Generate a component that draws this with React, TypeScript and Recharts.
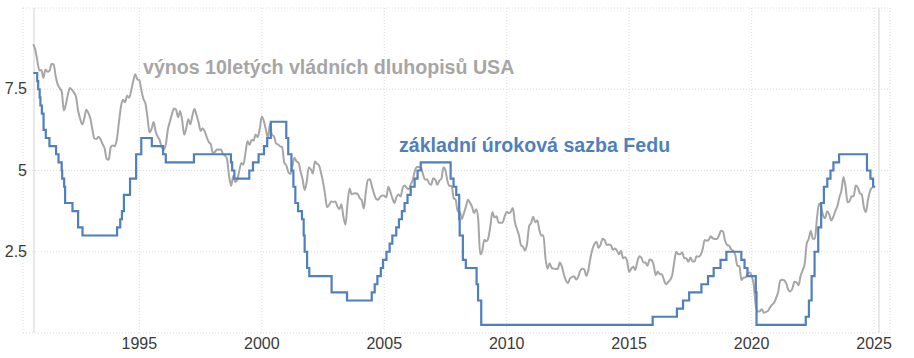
import React from 'react';
import { LineChart, Line, XAxis, YAxis, CartesianGrid, ReferenceLine } from 'recharts';

// 10y treasury yield, monthly, Sep 1990 .. Dec 2024
const yields1990s = [
  8.89, 8.72, 8.39, 8.08,
  8.09, 7.85, 8.11, 8.04, 8.07, 8.28, 8.27, 7.90, 7.65, 7.53, 7.42, 6.85,
  7.03, 7.34, 7.54, 7.48, 7.39, 7.26, 6.84, 6.59, 6.42, 6.59, 6.87, 6.77,
  6.60, 6.26, 5.98, 5.97, 6.04, 5.96, 5.81, 5.68, 5.36, 5.33, 5.72, 5.77,
  5.75, 5.97, 6.48, 6.97, 7.18, 7.10, 7.30, 7.24, 7.46, 7.74, 7.96, 7.81,
  7.78, 7.47, 7.20, 7.06, 6.63, 6.17, 6.28, 6.49, 6.20, 6.04, 5.93, 5.71,
  5.65, 5.81, 6.27, 6.51, 6.74, 6.91, 6.87, 6.64, 6.83, 6.53, 6.10, 6.30,
  6.58, 6.42, 6.69, 6.89, 6.71, 6.49, 6.22, 6.30, 6.21, 6.03, 5.88, 5.81,
  5.54, 5.57, 5.65, 5.64, 5.65, 5.50, 5.46, 5.34, 4.81, 4.53, 4.83, 4.65,
  4.72, 5.00, 5.23, 5.18, 5.54, 5.90, 5.79, 5.94, 5.92, 6.11, 6.03, 6.28,
];
const yields2000s = [
  6.66, 6.52, 6.26, 5.99, 6.44, 6.10, 6.05, 5.83, 5.80, 5.74, 5.72, 5.24,
  5.16, 4.95, 4.89, 5.14, 5.39, 5.28, 5.24, 4.97, 4.73, 4.40, 4.65, 5.09,
  5.04, 4.91, 5.28, 5.21, 5.16, 4.93, 4.65, 4.26, 3.87, 3.94, 4.05, 4.03,
  4.05, 3.90, 3.81, 3.96, 3.57, 3.33, 3.98, 4.45, 4.27, 4.29, 4.30, 4.27,
  4.15, 4.08, 3.83, 4.35, 4.72, 4.73, 4.50, 4.28, 4.13, 4.10, 4.19, 4.23,
  4.22, 4.17, 4.50, 4.34, 4.14, 4.00, 4.18, 4.26, 4.20, 4.46, 4.54, 4.47,
  4.42, 4.57, 4.72, 4.99, 5.11, 5.11, 5.09, 4.88, 4.72, 4.73, 4.60, 4.56,
  4.76, 4.72, 4.56, 4.69, 4.75, 5.10, 5.00, 4.67, 4.52, 4.53, 4.15, 4.10,
  3.74, 3.74, 3.51, 3.68, 3.88, 4.10, 4.01, 3.89, 3.69, 3.81, 3.53, 2.42,
  2.52, 2.87, 2.82, 2.93, 3.29, 3.72, 3.56, 3.59, 3.40, 3.39, 3.40, 3.59,
];
const yields2010s = [
  3.73, 3.69, 3.73, 3.85, 3.42, 3.20, 3.01, 2.70, 2.65, 2.54, 2.76, 3.29,
  3.39, 3.58, 3.41, 3.46, 3.17, 3.00, 3.00, 2.30, 1.98, 2.15, 2.01, 1.98,
  1.97, 1.97, 2.17, 2.05, 1.80, 1.62, 1.53, 1.68, 1.72, 1.75, 1.65, 1.72,
  1.91, 1.98, 1.96, 1.76, 1.93, 2.30, 2.58, 2.74, 2.81, 2.62, 2.72, 2.90,
  2.86, 2.71, 2.72, 2.71, 2.56, 2.60, 2.54, 2.42, 2.53, 2.30, 2.33, 2.21,
  1.88, 1.98, 2.04, 1.94, 2.20, 2.36, 2.32, 2.17, 2.17, 2.07, 2.26, 2.24,
  2.09, 1.78, 1.89, 1.81, 1.81, 1.64, 1.50, 1.56, 1.63, 1.76, 2.14, 2.49,
  2.43, 2.42, 2.48, 2.30, 2.30, 2.19, 2.32, 2.21, 2.20, 2.36, 2.35, 2.40,
  2.58, 2.86, 2.84, 2.87, 2.98, 2.91, 2.89, 2.89, 3.00, 3.15, 3.12, 2.83,
  2.71, 2.68, 2.57, 2.53, 2.40, 2.07, 2.06, 1.63, 1.70, 1.71, 1.81, 1.86,
];
const yields2020s = [
  1.76, 1.50, 0.87, 0.66, 0.67, 0.73, 0.62, 0.65, 0.68, 0.79, 0.87, 0.93,
  1.08, 1.26, 1.61, 1.64, 1.62, 1.52, 1.32, 1.28, 1.37, 1.58, 1.56, 1.47,
  1.76, 1.93, 2.13, 2.75, 2.90, 3.14, 2.90, 2.90, 3.52, 3.98, 3.89, 3.62,
  3.53, 3.75, 3.66, 3.46, 3.57, 3.75, 3.90, 4.17, 4.38, 4.80, 4.50, 4.02,
  4.06, 4.21, 4.21, 4.54, 4.48, 4.31, 4.25, 3.87, 3.72, 4.10, 4.36, 4.48,
];

// Fed funds target (upper bound), change dates in decimal years
const fedDates = [
  1990.67, 1990.83, 1990.87, 1990.93, 1990.96, 1991.02, 1991.09, 1991.18, 1991.33, 1991.6,
  1991.7, 1991.83, 1991.85, 1991.93, 1991.97, 1992.27, 1992.5, 1992.68, 1994.09, 1994.22,
  1994.29, 1994.37, 1994.62, 1994.87, 1995.08, 1995.51, 1995.97, 1996.08, 1997.23, 1998.74,
  1998.79, 1998.88, 1999.49, 1999.64, 1999.87, 2000.09, 2000.22, 2000.37, 2001.0, 2001.08,
  2001.21, 2001.29, 2001.37, 2001.48, 2001.64, 2001.71, 2001.75, 2001.85, 2001.94, 2002.85,
  2003.48, 2004.49, 2004.61, 2004.72, 2004.86, 2004.95, 2005.09, 2005.22, 2005.33, 2005.49,
  2005.6, 2005.72, 2005.83, 2005.95, 2006.08, 2006.24, 2006.36, 2006.49, 2007.71, 2007.83,
  2007.94, 2008.06, 2008.08, 2008.21, 2008.33, 2008.77, 2008.83, 2008.96, 2015.96, 2016.95,
  2017.2, 2017.45, 2017.95, 2018.22, 2018.45, 2018.73, 2018.97, 2019.58, 2019.71, 2019.83,
  2020.17, 2020.2, 2022.21, 2022.34, 2022.45, 2022.57, 2022.72, 2022.84, 2022.95, 2023.09,
  2023.22, 2023.34, 2023.57, 2024.71, 2024.85, 2024.96, 2025.05,
];
const fedRates = [
  8.0, 7.75, 7.5, 7.25, 7.0, 6.75, 6.25, 6.0, 5.75, 5.5,
  5.25, 5.0, 4.75, 4.5, 4.0, 3.75, 3.25, 3.0, 3.25, 3.5,
  3.75, 4.25, 4.75, 5.5, 6.0, 5.75, 5.5, 5.25, 5.5, 5.25,
  5.0, 4.75, 5.0, 5.25, 5.5, 5.75, 6.0, 6.5, 6.0, 5.5,
  5.0, 4.5, 4.0, 3.75, 3.5, 3.0, 2.5, 2.0, 1.75, 1.25,
  1.0, 1.25, 1.5, 1.75, 2.0, 2.25, 2.5, 2.75, 3.0, 3.25,
  3.5, 3.75, 4.0, 4.25, 4.5, 4.75, 5.0, 5.25, 4.75, 4.5,
  4.25, 3.5, 3.0, 2.25, 2.0, 1.5, 1.0, 0.25, 0.5, 0.75,
  1.0, 1.25, 1.5, 1.75, 2.0, 2.25, 2.5, 2.25, 2.0, 1.75,
  1.25, 0.25, 0.5, 1.0, 1.75, 2.5, 3.25, 4.0, 4.5, 4.75,
  5.0, 5.25, 5.5, 5.0, 4.75, 4.5, 4.5,
];

const xTicks = [1995, 2000, 2005, 2010, 2015, 2020, 2025];
const yTicks = [0, 2.5, 5, 7.5, 10];
const yieldLabel = 'výnos 10letých vládních dluhopisů USA';
const fedLabel = 'základní úroková sazba Fedu';

const yieldData = [...yields1990s, ...yields2000s, ...yields2010s, ...yields2020s].map((v, i) => ({
  t: 1990 + (8 + i) / 12,
  v,
}));
const fedData = fedDates.map((t, i) => ({ t, v: fedRates[i] }));

const FONT = '"Liberation Sans", Arial, sans-serif';
const GRAY = '#a6a6a6';
const BLUE = '#4f7fbd';

const XTick = (props: any) => (
  <text x={props.x} y={349} textAnchor="middle" fontFamily={FONT} fontSize={16} fill="#3a3a3a">
    {props.payload.value}
  </text>
);

const LeftTick = (props: any) => {
  const v = props.payload.value;
  if (v === 0 || v === 10) return <g />;
  return (
    <text x={27} y={props.y + 5} textAnchor="end" fontFamily={FONT} fontSize={16} fill="#3a3a3a">
      {v}
    </text>
  );
};

const RightTick = (props: any) => {
  const v = props.payload.value;
  if (v === 0 || v === 10) return <g />;
  return (
    <text x={884} y={props.y + 5} textAnchor="start" fontFamily={FONT} fontSize={16} fill="#3a3a3a">
      {v}
    </text>
  );
};

export default function App() {
  return (
    <div style={{ position: 'absolute', left: 0, top: 0, width: 914, height: 358, background: '#fff' }}>
      <LineChart width={914} height={358} margin={{ top: 8, right: 0, bottom: 0, left: 0 }}>
        <CartesianGrid stroke="#dcdcdc" strokeDasharray="1 2" />
        <XAxis
          type="number"
          dataKey="t"
          domain={[1990.25, 2025.65]}
          ticks={xTicks}
          interval={0}
          allowDataOverflow
          height={25}
          axisLine={false}
          tickLine={false}
          tick={<XTick />}
        />
        <YAxis
          domain={[0, 10]}
          ticks={yTicks}
          interval={0}
          width={23}
          axisLine={false}
          tickLine={false}
          tick={<LeftTick />}
        />
        <YAxis
          yAxisId="r"
          orientation="right"
          domain={[0, 10]}
          ticks={yTicks}
          interval={0}
          width={24}
          axisLine={false}
          tickLine={false}
          tick={<RightTick />}
        />
        <ReferenceLine x={1990.7} stroke="#e2e2e2" strokeWidth={1.5} />
        <ReferenceLine x={2025.2} stroke="#e2e2e2" strokeWidth={1.5} />
        <Line
          data={yieldData}
          dataKey="v"
          type="monotone"
          stroke={GRAY}
          strokeWidth={2}
          dot={false}
          isAnimationActive={false}
        />
        <Line
          data={fedData}
          dataKey="v"
          type="stepAfter"
          stroke={BLUE}
          strokeWidth={2.2}
          dot={false}
          isAnimationActive={false}
        />
      </LineChart>
      <svg width={914} height={358} style={{ position: 'absolute', left: 0, top: 0, pointerEvents: 'none' }}>
        <text x={143} y={73.5} fontFamily={FONT} fontSize={19.6} fontWeight="bold" fill={GRAY}>
          {yieldLabel}
        </text>
        <text x={399} y={151.7} fontFamily={FONT} fontSize={19.6} fontWeight="bold" fill={BLUE}>
          {fedLabel}
        </text>
      </svg>
    </div>
  );
}
